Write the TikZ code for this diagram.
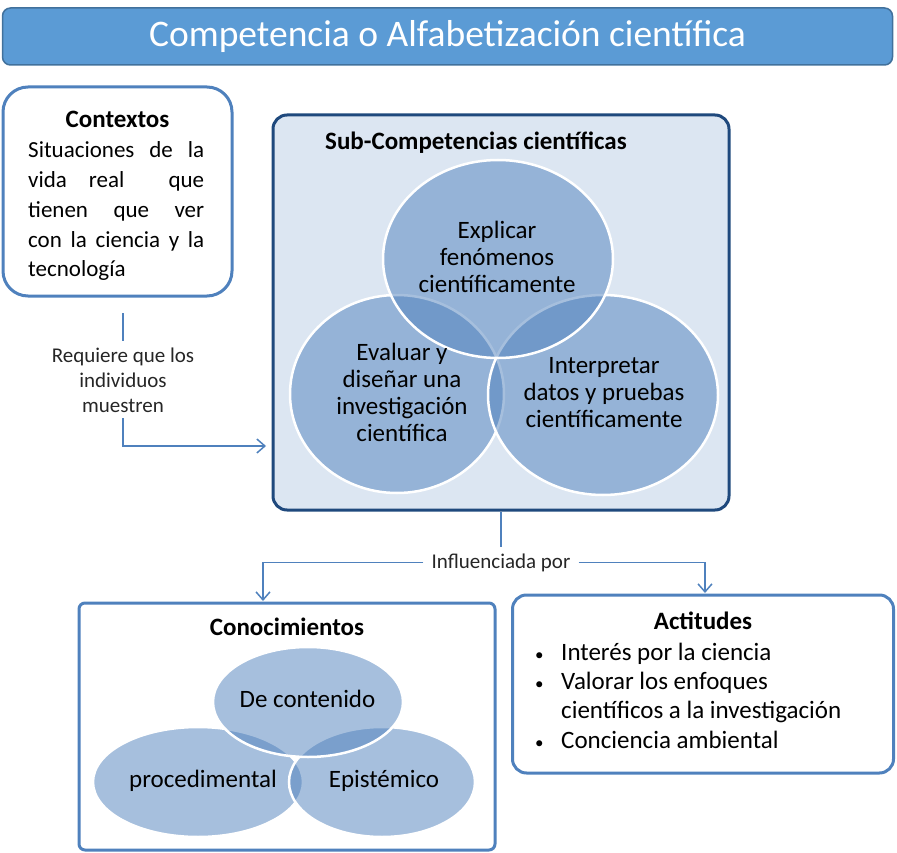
\documentclass[tikz,border=0pt]{standalone}
\usepackage{fontspec}
\setmainfont{Carlito}
\usepackage{tikz}
\usetikzlibrary{shapes,arrows,arrows.meta,positioning,calc}
\definecolor{titleblue}{RGB}{91,155,213}
\definecolor{titleedge}{RGB}{65,113,156}
\definecolor{edgeblue}{RGB}{79,129,189}
\definecolor{navyedge}{RGB}{31,73,125}
\definecolor{panelfill}{RGB}{220,230,242}
\definecolor{vennblue}{RGB}{79,129,189}
\definecolor{smallgray}{RGB}{38,38,38}
\newcommand{\bul}{\makebox[27pt][l]{\hspace{1pt}\fontsize{17}{17}\selectfont\textbullet}}

\begin{document}
\begin{tikzpicture}[x=1pt,y=-1pt,
    box/.style={draw=edgeblue,line width=3pt,fill=white,inner sep=0pt},
    venn/.style={ellipse,draw=white,line width=2.5pt,fill=vennblue,fill opacity=0.5,inner sep=0pt},
    head/.style={font=\fontsize{25}{30}\selectfont\bfseries,inner sep=0pt,anchor=base},
    venntext/.style={font=\fontsize{25}{26.7}\selectfont,align=center,inner sep=0pt,anchor=base},
    small/.style={font=\fontsize{21}{25}\selectfont,text=smallgray,align=center,inner xsep=8pt,inner ysep=6pt,anchor=base},
    link/.style={draw=edgeblue,line width=1.5pt},
    arrow/.style={link,-{Straight Barb[length=8pt,width=14pt]}}]
    \useasboundingbox (0,0) rectangle (897,853);

    % title bar
    \node[draw=titleedge,fill=titleblue,line width=1.5pt,rounded corners=8pt,
      minimum width=890pt,minimum height=57pt,inner sep=0pt] (title) at (447.5,36.5) {};
    \node[font=\fontsize{37.5}{40}\selectfont,text=white,inner sep=0pt,anchor=base] (titletext) at (447.5,47)
      {Competencia o Alfabetización científica};

    % contextos
    \node[box,rounded corners=25pt,minimum width=229pt,minimum height=209pt] (contextos) at (117.5,191.5) {};
    \node[head] (contextos-t) at (117.5,128) {Contextos};
    \node[font=\fontsize{23}{29.75}\selectfont,text width=176pt,align=justify,inner sep=0pt,anchor=base west] (contextos-b) at (28,158)
      {\hyphenpenalty=10000 Situaciones de la\linebreak vida real \ que\linebreak tienen que ver\linebreak con la ciencia y la\linebreak tecnología};

    % sub-competencias
    \node[box,draw=navyedge,fill=panelfill,rounded corners=14pt,minimum width=456pt,minimum height=395pt] (subcomp) at (501,312.5) {};
    \node[head,anchor=base west] (subcomp-t) at (325,150) {Sub-Competencias científicas};
    \node[venn,minimum width=214pt,minimum height=198pt] (vleft) at (397,394) {};
    \node[venn,minimum width=230pt,minimum height=200pt] (vright) at (603,395) {};
    \node[venn,minimum width=230pt,minimum height=198pt] (vtop) at (498,259) {};
    \node[venntext] (explicar) at (497,292) {Explicar\\fenómenos\\científicamente};
    \node[venntext] (evaluar) at (402,441) {Evaluar y\\diseñar una\\investigación\\científica};
    \node[venntext] (interpretar) at (604,427) {Interpretar\\datos y pruebas\\científicamente};

    % conocimientos
    \node[box,rounded corners=6pt,minimum width=416pt,minimum height=247pt] (conocim) at (287,726.5) {};
    \node[head] (conocim-t) at (287,635) {Conocimientos};
    \node[venn,minimum width=210pt,minimum height=110pt] (cleft) at (198,782) {};
    \node[venn,minimum width=186pt,minimum height=110pt] (cright) at (382,782) {};
    \node[venn,minimum width=190pt,minimum height=110pt] (ctop) at (308,702) {};
    \node[venntext] (contenido) at (307.5,707) {De contenido};
    \node[venntext] (procedimental) at (203,787) {procedimental};
    \node[venntext] (epistemico) at (384,787) {Epistémico};

    % actitudes
    \node[box,rounded corners=14pt,minimum width=381pt,minimum height=178pt] (actitudes) at (703,684) {};
    \node[head] (actitudes-t) at (703,629) {Actitudes};
    \node[font=\fontsize{25}{29.3}\selectfont,align=left,inner sep=0pt,anchor=base west] (actitudes-b) at (534,748)
      {\bul Interés por la ciencia\\
       \bul Valorar los enfoques\\
       \hspace*{27pt}científicos a la investigación\\
       \bul Conciencia ambiental};

    % connectors
    \node[small] (requiere) at (123,412) {Requiere que los\\individuos\\muestren};
    \node[small] (influencia) at (501,568) {Influenciada por};
    \coordinate (ctxout) at (123,313);
    \coordinate (reqend) at (266,446);
    \coordinate (conin) at (263,601);
    \coordinate (actin) at (705,593);
    \draw[link] (ctxout) -- (requiere.north);
    \draw[arrow] (requiere.south) |- (reqend);
    \draw[link] (subcomp.south) -- (influencia.north);
    \draw[arrow] (influencia.west) -| (conin);
    \draw[arrow] (influencia.east) -| (actin);
\end{tikzpicture}
\end{document}
